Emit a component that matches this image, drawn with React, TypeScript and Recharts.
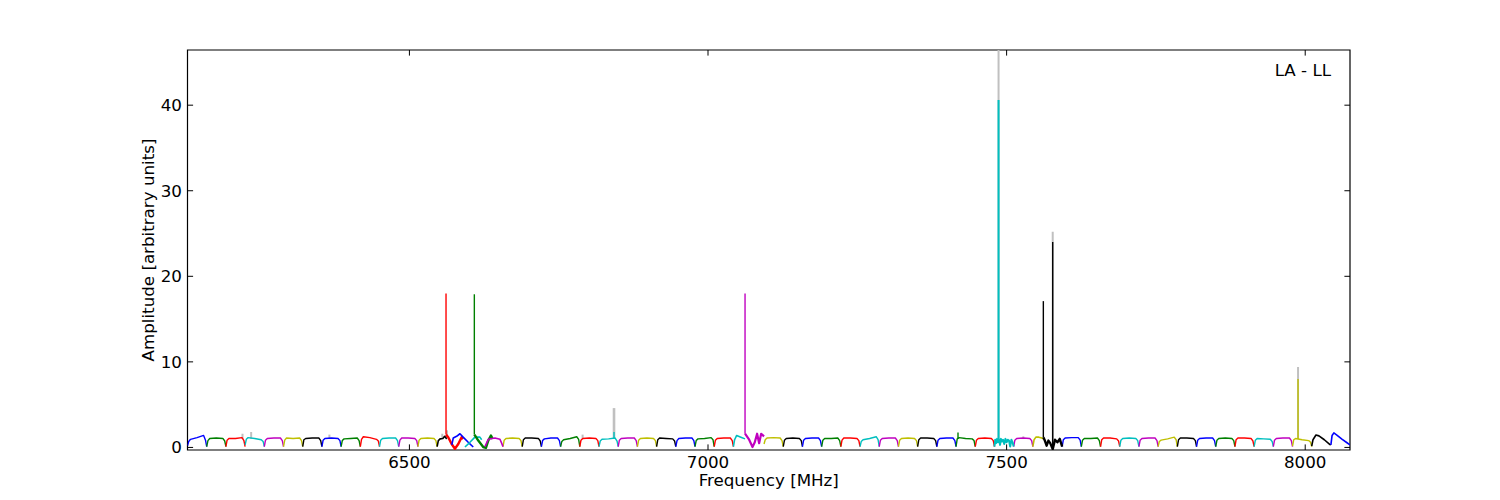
import React from 'react';
import { LineChart, Line, XAxis, YAxis, ReferenceArea } from 'recharts';

// ---------- data ----------
const COLORS: Record<string, string> = {
  b: '#0000ff', g: '#008000', r: '#ff0000', c: '#00bfbf', m: '#bf00bf', y: '#bfbf00', k: '#000000',
};
const GREY = '#c0c0c0';

const xTicks = [6500, 7000, 7500, 8000];
const yTicks = [0, 10, 20, 30, 40];
const xDomain: [number, number] = [6128.4, 8075];
const yDomain: [number, number] = [-0.3, 46.45];

// channel positions (MHz) inside one spectral window
const channelOffsets = [0, 2, 5, 16, 27, 30.15, 32.15];

// regular spectral windows: start frequency (MHz), colour, amplitude per channel
const windowStart = [
  6128.4, 6160.6, 6192.7, 6224.9, 6257.0, 6289.2, 6321.3, 6353.5, 6385.6, 6417.8, 6449.9, 6482.1, 6514.2,
  6656.7, 6688.9, 6721.0, 6753.2, 6785.3, 6817.5, 6849.6, 6881.8, 6913.9, 6946.1, 6978.2, 7010.4,
  7093.8, 7126.0, 7158.1, 7190.3, 7222.4, 7254.6, 7286.7, 7318.9, 7351.0, 7383.2, 7415.3, 7447.5,
  7511.8,
  7593.0, 7625.1, 7657.3, 7689.4, 7721.6, 7753.7, 7785.9, 7818.0, 7850.2, 7882.3, 7914.5, 7946.6, 7978.8,
];
const windowColor = [
  'b', 'g', 'r', 'c', 'm', 'y', 'k', 'b', 'g', 'r', 'c', 'm', 'y',
  'y', 'k', 'b', 'g', 'r', 'c', 'm', 'y', 'k', 'b', 'g', 'r',
  'y', 'k', 'b', 'g', 'r', 'c', 'm', 'y', 'k', 'b', 'g', 'r',
  'm',
  'b', 'g', 'r', 'c', 'm', 'y', 'k', 'b', 'g', 'r', 'c', 'm', 'y',
];
const windowLevels = [
  [0.2, 0.7, 0.95, 1.15, 1.4, 0.85, 0.1],
  [0.1, 0.8, 1.05, 1.1, 1.05, 0.75, 0.1],
  [0.1, 0.85, 1.05, 1.05, 1.15, 0.8, 0.1],
  [0.3, 0.95, 1.15, 1.05, 0.9, 0.7, 0.1],
  [0.1, 0.85, 1.05, 1.1, 1.1, 0.8, 0.1],
  [0.1, 0.85, 1.1, 1.05, 1.1, 0.8, 0.1],
  [0.1, 0.9, 1.05, 1.1, 1.1, 0.8, 0.1],
  [0.1, 0.85, 1.05, 1.1, 1.05, 0.8, 0.1],
  [0.1, 0.8, 1.0, 1.05, 1.1, 0.8, 0.1],
  [0.1, 0.95, 1.25, 1.15, 0.95, 0.75, 0.1],
  [0.1, 0.85, 1.05, 1.1, 1.1, 0.8, 0.1],
  [0.1, 0.85, 1.1, 1.1, 1.05, 0.8, 0.1],
  [0.1, 0.85, 1.05, 1.1, 1.05, 0.8, 0.1],

  [0.1, 0.85, 1.05, 1.1, 1.05, 0.8, 0.1],
  [0.1, 0.9, 1.1, 1.1, 1.05, 0.75, 0.1],
  [0.1, 0.8, 1.0, 1.1, 1.1, 0.8, 0.1],
  [0.1, 0.7, 0.9, 1.05, 1.25, 0.95, 0.1],
  [0.1, 0.85, 1.05, 1.1, 1.05, 0.8, 0.1],
  [0.1, 0.75, 0.95, 1.0, 1.1, 0.75, 0.1],
  [0.1, 0.85, 1.05, 1.1, 1.1, 0.8, 0.1],
  [0.1, 0.85, 1.05, 1.1, 1.05, 0.8, 0.1],
  [0.1, 0.9, 1.1, 1.05, 1.0, 0.75, 0.1],
  [0.1, 0.8, 1.05, 1.1, 1.1, 0.8, 0.1],
  [0.1, 0.8, 1.0, 1.05, 1.15, 0.9, 0.1],
  [0.1, 0.85, 1.05, 1.1, 1.1, 0.8, 0.1],

  [0.4, 0.9, 1.1, 1.15, 1.1, 0.8, 0.1],
  [0.1, 0.85, 1.05, 1.1, 1.05, 0.8, 0.1],
  [0.1, 0.85, 1.05, 1.1, 1.1, 0.8, 0.1],
  [0.1, 0.85, 1.05, 1.05, 1.1, 0.8, 0.1],
  [0.1, 0.85, 1.1, 1.1, 1.05, 0.8, 0.1],
  [0.1, 0.7, 0.9, 1.05, 1.25, 0.9, 0.1],
  [0.1, 0.85, 1.05, 1.1, 1.1, 0.8, 0.1],
  [0.1, 0.85, 1.05, 1.1, 1.05, 0.8, 0.1],
  [0.1, 0.9, 1.1, 1.1, 1.05, 0.8, 0.1],
  [0.1, 0.85, 1.05, 1.1, 1.1, 0.8, 0.1],
  [0.1, 1.0, 1.15, 1.05, 1.0, 0.8, 0.1],
  [0.1, 0.85, 1.05, 1.1, 1.05, 0.8, 0.1],

  [0.1, 0.85, 1.05, 1.1, 1.05, 0.8, 0.1],

  [0.1, 0.9, 1.1, 1.15, 1.15, 0.85, 0.1],
  [0.1, 0.85, 1.05, 1.05, 1.1, 0.8, 0.1],
  [0.1, 0.9, 1.1, 1.1, 1.0, 0.75, 0.1],
  [0.1, 0.85, 1.05, 1.1, 1.05, 0.8, 0.1],
  [0.1, 0.85, 1.05, 1.1, 1.1, 0.8, 0.1],
  [0.1, 0.7, 0.85, 1.0, 1.2, 0.9, 0.1],
  [0.1, 0.9, 1.1, 1.1, 1.05, 0.8, 0.1],
  [0.1, 0.85, 1.05, 1.1, 1.1, 0.8, 0.1],
  [0.1, 0.85, 1.05, 1.1, 1.05, 0.8, 0.1],
  [0.1, 0.9, 1.1, 1.1, 1.05, 0.75, 0.1],
  [0.1, 0.85, 1.05, 1.0, 0.95, 0.7, 0.1],
  [0.1, 0.85, 1.05, 1.1, 1.1, 0.8, 0.1],
  [0.15, 0.9, 1.05, 0.9, 0.8, 0.6, 0.1],
];

// irregular (overlapping / RFI affected) windows
const irregularColor = ['k', 'r', 'b', 'c', 'g', 'm', 'c', 'm', 'c', 'y', 'k', 'k', 'b'];
const irregularFreq = [
  [6546.4, 6548.4, 6551.4, 6556, 6559, 6562.5],
  [6561.3, 6565, 6570.7, 6576.2, 6581.8, 6587.4, 6590],
  [6571, 6573.4, 6579, 6584.6, 6590, 6598.5, 6606.9],
  [6593, 6601.3, 6609.7, 6618, 6621],
  [6608.7, 6609.7, 6615.3, 6623.6, 6628.1, 6632, 6636.5, 6639.3],
  [6626.5, 6632, 6643.2, 6651.6, 6654.4, 6656.7],
  [7042.5, 7044.5, 7048, 7055, 7062],
  [7062, 7068.9, 7074.5, 7078.3, 7082.2, 7085.6, 7089, 7093.8],
  [7479.6, 7481, 7482.5, 7484, 7485.5, 7487.5, 7489, 7490.5, 7492, 7494, 7496, 7498, 7500, 7502, 7504, 7506, 7508, 7510, 7511.8],
  [7543.9, 7546, 7549, 7554, 7559, 7561.5],
  [7561.5, 7564, 7567, 7570, 7573, 7577.2, 7581, 7585, 7589, 7593],
  [8010.9, 8013, 8018, 8023, 8032, 8041, 8043],
  [8043, 8045, 8048, 8053, 8062, 8070, 8075],
];
const irregularLevel = [
  [0.1, 0.8, 1.0, 1.05, 1.3, 1.0],
  [1.5, 1.2, 0.4, -0.15, 0.4, 1.2, 1.0],
  [0.3, 1.1, 1.3, 1.6, 1.2, 0.6, 0.05],
  [0.05, 0.6, 1.2, 1.2, 0.9],
  [1.5, 1.4, 0.8, 0.05, -0.05, 0.8, 1.4, 1.0],
  [0.1, 0.95, 1.1, 0.95, 0.5, 0.1],
  [0.1, 0.9, 1.4, 1.2, 1.0],
  [1.6, 0.9, 0.05, 0.6, 1.6, 0.5, 1.6, 1.3],
  [0.1, 0.9, 0.5, 1.0, 0.6, 0.9, 0.3, 1.0, 0.7, 0.9, 0.4, 1.0, 0.6, 0.9, 0.8, 0.1, 0.9, 0.6, 0.1],
  [0.1, 0.9, 1.2, 1.2, 1.1, 1.0],
  [1.2, 0.8, 0.2, 0.8, 0.5, -0.2, 0.9, 0.6, 1.0, 0.1],
  [0.15, 0.9, 1.45, 1.35, 0.9, 0.35, 0.3],
  [0.3, 1.4, 1.7, 1.45, 0.95, 0.55, 0.3],
];
const irregularWidth = [1.6, 2.4, 1.6, 1.6, 2.4, 1.6, 1.6, 2.2, 2.0, 1.6, 2.4, 1.6, 1.6];

// narrow line spikes (coloured)
const spikeFreq = [6561.3, 6608.7, 6842.6, 7062, 7418.6, 7486.5, 7561.5, 7577.2, 7988];
const spikeBase = [1.5, 1.5, 1.0, 1.6, 1.0, 0.9, 1.2, 0.0, 1.0];
const spikePeak = [18.0, 17.9, 1.8, 18.0, 1.75, 40.6, 17.1, 24.0, 8.0];
const spikeColor = ['r', 'g', 'c', 'm', 'g', 'c', 'k', 'k', 'y'];

// grey (unflagged) spikes drawn underneath
const greyFreq = [6220.5, 6235, 6366, 6555, 6563, 6790, 6842.6, 7486.5, 7528, 7577.2, 7988];
const greyBase = [1.0, 1.0, 1.0, 1.0, 1.2, 1.0, 1.0, 0.9, 1.0, 0.0, 1.0];
const greyPeak = [1.6, 1.8, 1.5, 1.6, 2.0, 1.5, 4.6, 47, 1.3, 25.2, 9.4];

// ---------- series built from data ----------
type Pt = { f: number; v: number };
type Series = { color: string; data: Pt[]; width: number };

const regularSeries: Series[] = windowStart.map((s, i) => ({
  color: COLORS[windowColor[i]],
  width: 1.4,
  data: channelOffsets.map((o, j) => ({ f: s + o, v: windowLevels[i][j] })),
}));
const irregularSeries: Series[] = irregularFreq.map((fs, i) => ({
  color: COLORS[irregularColor[i]],
  width: irregularWidth[i],
  data: fs.map((f, j) => ({ f, v: irregularLevel[i][j] })),
}));
const spikeSeries: Series[] = spikeFreq.map((f, i) => ({
  color: COLORS[spikeColor[i]],
  width: spikePeak[i] > 30 ? 2 : 1.4,
  data: [{ f, v: spikeBase[i] }, { f, v: spikePeak[i] }],
}));
const greySeries: Series[] = greyFreq.map((f, i) => ({
  color: GREY,
  width: greyPeak[i] > 3 && greyPeak[i] < 6 ? 2.6 : 2,
  data: [{ f, v: greyBase[i] }, { f, v: greyPeak[i] }],
}));

const allSeries: Series[] = [...greySeries, ...regularSeries, ...irregularSeries, ...spikeSeries];

// ---------- styling ----------
const FONT = 'DejaVu Sans, Liberation Sans, sans-serif';
const FS = 16.7;
const TICK = 5.6;

const BottomTick = (props: any) => {
  const { x, y, payload } = props;
  return (
    <g>
      <line x1={x} x2={x} y1={y} y2={y - TICK} stroke="#000" strokeWidth={1} />
      <text x={x} y={y + 18} textAnchor="middle" fontFamily={FONT} fontSize={FS} fill="#000">
        {payload.value}
      </text>
    </g>
  );
};
const TopTick = (props: any) => {
  const { x, y } = props;
  return <line x1={x} x2={x} y1={y} y2={y + TICK} stroke="#000" strokeWidth={1} />;
};
const LeftTick = (props: any) => {
  const { x, y, payload } = props;
  return (
    <g>
      <line x1={x} x2={x + TICK} y1={y} y2={y} stroke="#000" strokeWidth={1} />
      <text x={x - 5.6} y={y + 6} textAnchor="end" fontFamily={FONT} fontSize={FS} fill="#000">
        {payload.value}
      </text>
    </g>
  );
};
const RightTick = (props: any) => {
  const { x, y } = props;
  return <line x1={x} x2={x - TICK} y1={y} y2={y} stroke="#000" strokeWidth={1} />;
};

export default function App() {
  return (
    <div style={{ position: 'absolute', left: 0, top: 0, width: 1500, height: 500, background: '#fff' }}>
      <LineChart width={1500} height={500} margin={{ top: 40, right: 140, bottom: 20, left: 147.5 }}>
        <XAxis
          xAxisId="main"
          orientation="bottom"
          type="number"
          dataKey="f"
          domain={xDomain}
          allowDataOverflow
          ticks={xTicks}
          height={30}
          tickSize={0}
          tickMargin={0}
          tickLine={false}
          tick={BottomTick}
          axisLine={false}
          interval={0}
        />
        <XAxis
          xAxisId="top"
          orientation="top"
          type="number"
          dataKey="f"
          domain={xDomain}
          allowDataOverflow
          ticks={xTicks}
          height={10}
          tickSize={0}
          tickMargin={0}
          tickLine={false}
          tick={TopTick}
          axisLine={false}
          interval={0}
        />
        <YAxis
          yAxisId="main"
          orientation="left"
          type="number"
          domain={yDomain}
          allowDataOverflow
          ticks={yTicks}
          width={40}
          tickSize={0}
          tickMargin={0}
          tickLine={false}
          tick={LeftTick}
          axisLine={false}
          interval={0}
        />
        <YAxis
          yAxisId="right"
          orientation="right"
          type="number"
          domain={yDomain}
          allowDataOverflow
          ticks={yTicks}
          width={10}
          tickSize={0}
          tickMargin={0}
          tickLine={false}
          tick={RightTick}
          axisLine={false}
          interval={0}
        />
        {allSeries.map((s, i) => (
          <Line
            key={'s' + i}
            xAxisId="main"
            yAxisId="main"
            data={s.data}
            dataKey="v"
            type="linear"
            stroke={s.color}
            strokeWidth={s.width}
            strokeLinejoin="round"
            dot={false}
            activeDot={false}
            isAnimationActive={false}
            legendType="none"
          />
        ))}
        <ReferenceArea
          xAxisId="main"
          yAxisId="main"
          x1={xDomain[0]}
          x2={xDomain[1]}
          y1={yDomain[0]}
          y2={yDomain[1]}
          fill="none"
          fillOpacity={0}
          stroke="#000"
          strokeWidth={1.2}
          ifOverflow="visible"
        />
      </LineChart>
      <svg
        width={1500}
        height={500}
        style={{ position: 'absolute', left: 0, top: 0, pointerEvents: 'none' }}
      >
        <text x={768.75} y={486} textAnchor="middle" fontFamily={FONT} fontSize={FS} fill="#000">
          Frequency [MHz]
        </text>
        <text
          x={154}
          y={250}
          textAnchor="middle"
          fontFamily={FONT}
          fontSize={FS}
          fill="#000"
          transform="rotate(-90 154 250)"
        >
          Amplitude [arbitrary units]
        </text>
        <text x={1331} y={76} textAnchor="end" fontFamily={FONT} fontSize={FS} fill="#000">
          LA - LL
        </text>
      </svg>
    </div>
  );
}
